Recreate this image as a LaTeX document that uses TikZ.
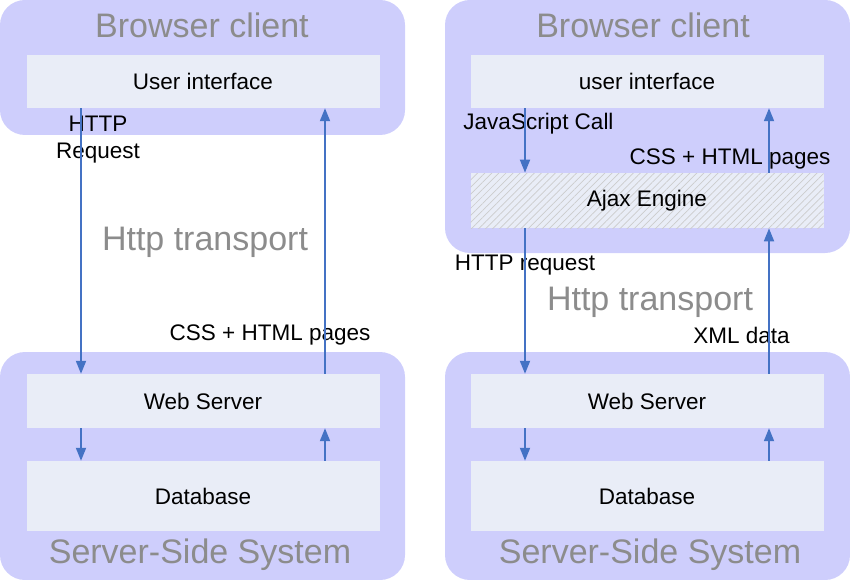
\documentclass[tikz,border=0pt]{standalone}
\usepackage{fontspec}
\setmainfont{Liberation Sans}
\usetikzlibrary{arrows.meta,patterns.meta}
\definecolor{outerbg}{RGB}{206,206,252}
\definecolor{innerbg}{RGB}{233,237,247}
\definecolor{arrblue}{RGB}{68,114,196}
\definecolor{titlegray}{RGB}{140,140,140}
\begin{document}
\begin{tikzpicture}[x=1pt,y=-1pt,>={Triangle[length=13pt,width=10pt]}]
\tikzstyle{outer}=[fill=outerbg,rounded corners=25pt,inner sep=0pt,minimum width=405pt]
\tikzstyle{c}=[fill=innerbg,inner sep=0pt,minimum width=353pt,font=\fontsize{22.5}{26}\selectfont]
\tikzstyle{ttl}=[text=titlegray,font=\fontsize{34}{40}\selectfont]
\tikzstyle{lbl}=[font=\fontsize{22.5}{27}\selectfont,align=center]
\tikzstyle{arr}=[->,draw=arrblue,line width=1.8pt]
\useasboundingbox (0,0) rectangle (850,580);
% client boxes
\node[outer,minimum height=135pt] (bl) at (202.5,67.5) {};
\node[outer,minimum height=253pt] (br) at (647.5,126.5) {};
% server boxes
\node[outer,minimum height=228pt] (sl) at (202.5,466) {};
\node[outer,minimum height=228pt] (sr) at (647.5,466) {};
\node[ttl] (tbl) at (202,25) {Browser client};
\node[ttl] (tbr) at (643,25) {Browser client};
\node[ttl] (tsl) at (200,555) {Server-Side System};
\node[ttl] (tsr) at (650,555) {Server-Side System};
% left: classic
\node[c,minimum height=53pt] (ui) at (203,81.5) {User interface};
\node[c,minimum height=54pt] (ws) at (203,401) {Web Server};
\node[c,minimum height=70pt] (db) at (203,496) {Database};
% right: ajax
\node[c,minimum height=53pt] (ui2) at (647,81.5) {user interface};
\node[c,minimum height=55pt,preaction={fill=innerbg},pattern={Lines[angle=45,distance=5pt,line width=0.7pt]},pattern color=gray!40] (aj) at (647,200.5) {Ajax Engine};
\node[c,minimum height=54pt] (ws2) at (647,401) {Web Server};
\node[c,minimum height=70pt] (db2) at (647,496) {Database};
\node[ttl] (htl) at (205,242) {Http transport};
\node[ttl] (htr) at (650,302) {Http transport};
\node[lbl] (req) at (98,140) {HTTP\\Request};
\node[lbl] (pg) at (270,335) {CSS + HTML pages};
\node[lbl] (js) at (538.5,124) {JavaScript Call};
\node[lbl] (pg2) at (730,159) {CSS + HTML pages};
\node[lbl] (req2) at (525,265) {HTTP request};
\node[lbl] (xml) at (741.5,335) {XML data};
% arrows
\draw[arr] ([xshift=-122pt]ui.south) -- ([xshift=-122pt]ws.north);
\draw[arr] ([xshift=122pt]ws.north) -- ([xshift=122pt]ui.south);
\draw[arr] ([xshift=-122pt]ws.south) -- ([xshift=-122pt]db.north);
\draw[arr] ([xshift=122pt]db.north) -- ([xshift=122pt]ws.south);
\draw[arr] ([xshift=-122pt]ui2.south) -- ([xshift=-122pt]aj.north);
\draw[arr] ([xshift=122pt]aj.north) -- ([xshift=122pt]ui2.south);
\draw[arr] ([xshift=-122pt]aj.south) -- ([xshift=-122pt]ws2.north);
\draw[arr] ([xshift=122pt]ws2.north) -- ([xshift=122pt]aj.south);
\draw[arr] ([xshift=-122pt]ws2.south) -- ([xshift=-122pt]db2.north);
\draw[arr] ([xshift=122pt]db2.north) -- ([xshift=122pt]ws2.south);
\end{tikzpicture}
\end{document}
